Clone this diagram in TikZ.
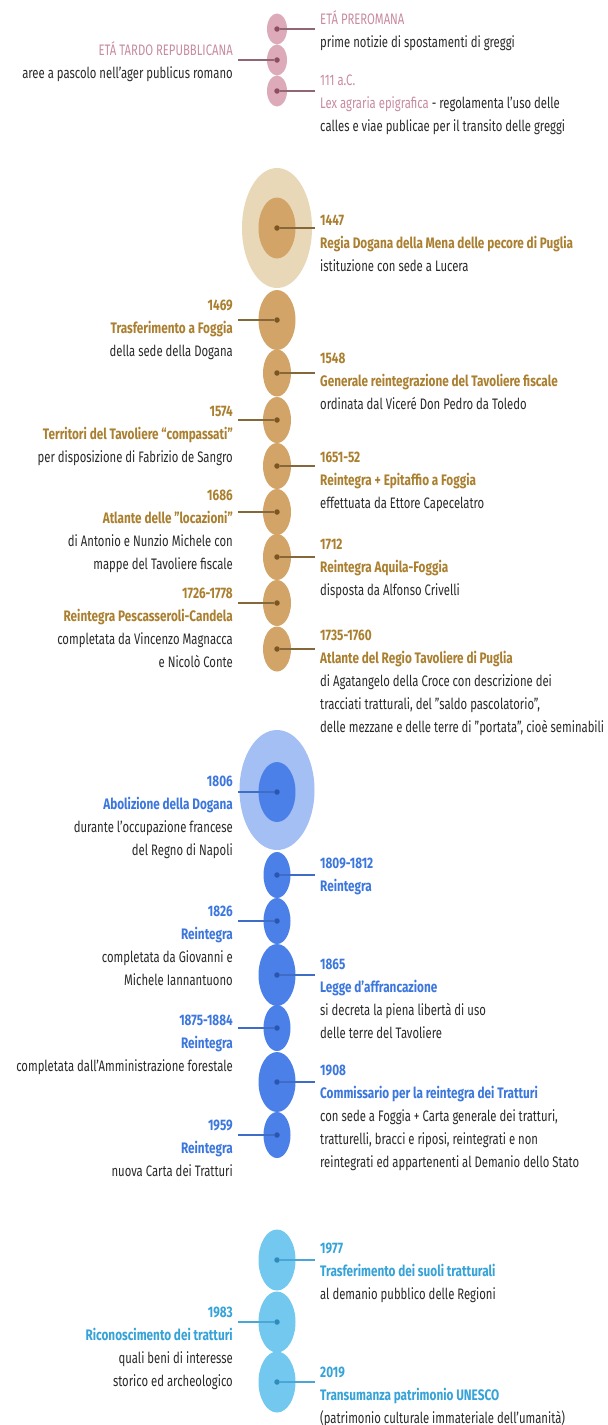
\documentclass[tikz,border=0pt]{standalone}
\usepackage{fontspec}
\setmainfont{Fira Sans}[FakeStretch=0.744, BoldFeatures={FakeStretch=0.774}]
\usetikzlibrary{shapes.geometric}

\definecolor{pinkfill}{HTML}{DCAAB9}
\definecolor{pinkdot}{HTML}{8E4D62}
\definecolor{pinkline}{HTML}{8F6672}
\definecolor{pinktext}{HTML}{C88BA0}
\definecolor{tanhalo}{HTML}{E9D8B8}
\definecolor{tanfill}{HTML}{D2A468}
\definecolor{tandot}{HTML}{7B5522}
\definecolor{tanline}{HTML}{86673A}
\definecolor{tantext}{HTML}{AA7F2F}
\definecolor{bluehalo}{HTML}{A3BFF3}
\definecolor{bluefill}{HTML}{4B80E9}
\definecolor{bluedot}{HTML}{2C55AE}
\definecolor{blueline}{HTML}{3E6CC6}
\definecolor{bluetext}{HTML}{3C77DD}
\definecolor{skyfill}{HTML}{72C8EE}
\definecolor{skydot}{HTML}{2E8CBD}
\definecolor{skyline}{HTML}{4AA6D4}
\definecolor{skytext}{HTML}{36A3D8}
\definecolor{greytext}{HTML}{2A2A2A}

\tikzstyle{ball}=[ellipse, inner sep=0pt, minimum width=28pt, minimum height=46pt]
\tikzstyle{bigball}=[ball, minimum width=37pt, minimum height=61pt]
\tikzstyle{halo}=[ball, minimum width=72pt, minimum height=120pt]
\tikzstyle{pinkball}=[ball, fill=pinkfill, minimum width=20pt, minimum height=31pt]
\tikzstyle{tanball}=[ball, fill=tanfill]
\tikzstyle{blueball}=[ball, fill=bluefill]
\tikzstyle{skyball}=[bigball, fill=skyfill]
\tikzstyle{pin}=[circle, inner sep=0pt, minimum size=5.5pt]
\tikzstyle{link}=[draw, line width=1.4pt, shorten >=5pt]
\tikzstyle{rlabel}=[anchor=north west, align=left, inner sep=0pt]
\tikzstyle{llabel}=[anchor=north east, align=right, inner sep=0pt]

\begin{document}
\begin{tikzpicture}[x=1pt, y=-1pt, font=\fontsize{15.2}{23}\selectfont, text=greytext]

\useasboundingbox [fill=white] (0,0) rectangle (608,1425);

\node (cpre) [pinkball] at (277,29) {};
\node (crep) [pinkball] at (277,60) {};
\node (c111) [pinkball] at (277,91) {};

\node (h1447) [halo, fill=tanhalo, minimum width=70pt] at (277,228) {};
\node (c1447) [bigball, fill=tanfill] at (277,228) {};
\node (c1469) [bigball, fill=tanfill, minimum height=60pt] at (277,320) {};
\node (c1548) [tanball, minimum height=47pt] at (277,373) {};
\node (c1574) [tanball] at (277,420) {};
\node (c1651) [tanball] at (277,466) {};
\node (c1686) [tanball] at (277,512) {};
\node (c1712) [tanball] at (277,557) {};
\node (c1726) [tanball] at (277,603) {};
\node (c1735) [tanball, minimum height=45pt] at (277,649) {};

\node (h1806) [halo, fill=bluehalo, minimum width=75pt] at (277,790) {};
\node (c1806) [bigball, fill=bluefill, minimum height=60pt] at (277,792) {};
\node (c1809) [blueball, minimum width=27pt] at (277,875) {};
\node (c1826) [blueball, minimum width=27pt] at (277,921) {};
\node (c1865) [bigball, fill=bluefill, minimum height=62pt] at (277,975) {};
\node (c1875) [blueball, minimum width=27pt] at (277,1028) {};
\node (c1908) [bigball, fill=bluefill, minimum height=60pt] at (277,1082) {};
\node (c1959) [blueball, minimum width=27pt] at (277,1135) {};

\node (c1977) [skyball] at (277,1260) {};
\node (c1983) [skyball] at (277,1322) {};
\node (c2019) [skyball] at (277,1382) {};

\node (tpre) [rlabel] at (320,8) {\strut\textcolor{pinktext}{ETÁ PREROMANA}\\prime notizie di spostamenti di greggi};
\node (trep) [llabel] at (233,39) {\strut\textcolor{pinktext}{ETÁ TARDO REPUBBLICANA}\\aree a pascolo nell’ager publicus romano};
\node (t111) [rlabel] at (320,69) {\strut\textcolor{pinktext}{111 a.C.}\\\textcolor{pinktext}{Lex agraria epigrafica} - regolamenta l’uso delle\\calles e viae publicae per il transito delle greggi};

\node (t1447) [rlabel] at (320,209) {\strut\textcolor{tantext}{\bfseries 1447}\\\textcolor{tantext}{\bfseries Regia Dogana della Mena delle pecore di Puglia}\\istituzione con sede a Lucera};
\node (t1469) [llabel] at (233,294) {\strut\textcolor{tantext}{\bfseries 1469}\\\textcolor{tantext}{\bfseries Trasferimento a Foggia}\\della sede della Dogana};
\node (t1548) [rlabel] at (320,347) {\strut\textcolor{tantext}{\bfseries 1548}\\\textcolor{tantext}{\bfseries Generale reintegrazione del Tavoliere fiscale}\\ordinata dal Viceré Don Pedro da Toledo};
\node (t1574) [llabel] at (233,400) {\strut\textcolor{tantext}{\bfseries 1574}\\\textcolor{tantext}{\bfseries Territori del Tavoliere “compassati”}\\per disposizione di Fabrizio de Sangro};
\node (t1651) [rlabel] at (320,446) {\strut\textcolor{tantext}{\bfseries 1651-52}\\\textcolor{tantext}{\bfseries Reintegra + Epitaffio a Foggia}\\effettuata da Ettore Capecelatro};
\node (t1686) [llabel] at (233,484) {\strut\textcolor{tantext}{\bfseries 1686}\\\textcolor{tantext}{\bfseries Atlante delle "locazioni"}\\di Antonio e Nunzio Michele con\\mappe del Tavoliere fiscale};
\node (t1712) [rlabel] at (320,533) {\strut\textcolor{tantext}{\bfseries 1712}\\\textcolor{tantext}{\bfseries Reintegra Aquila-Foggia}\\disposta da Alfonso Crivelli};
\node (t1726) [llabel] at (233,582) {\strut\textcolor{tantext}{\bfseries 1726-1778}\\\textcolor{tantext}{\bfseries Reintegra Pescasseroli-Candela}\\completata da Vincenzo Magnacca\\e Nicolò Conte};
\node (t1735) [rlabel] at (320,624) {\strut\textcolor{tantext}{\bfseries 1735-1760}\\\textcolor{tantext}{\bfseries Atlante del Regio Tavoliere di Puglia}\\di Agatangelo della Croce con descrizione dei\\tracciati tratturali, del "saldo pascolatorio",\\delle mezzane e delle terre di "portata", cioè seminabili};

\node (t1806) [llabel] at (233,770) {\strut\textcolor{bluetext}{\bfseries 1806}\\\textcolor{bluetext}{\bfseries Abolizione della Dogana}\\durante l’occupazione francese\\del Regno di Napoli};
\node (t1809) [rlabel] at (320,852) {\strut\textcolor{bluetext}{\bfseries 1809-1812}\\\textcolor{bluetext}{\bfseries Reintegra}};
\node (t1826) [llabel] at (233,900) {\strut\textcolor{bluetext}{\bfseries 1826}\\\textcolor{bluetext}{\bfseries Reintegra}\\completata da Giovanni e\\Michele Iannantuono};
\node (t1865) [rlabel] at (320,953) {\strut\textcolor{bluetext}{\bfseries 1865}\\\textcolor{bluetext}{\bfseries Legge d’affrancazione}\\si decreta la piena libertà di uso\\delle terre del Tavoliere};
\node (t1875) [llabel] at (233,1009) {\strut\textcolor{bluetext}{\bfseries 1875-1884}\\\textcolor{bluetext}{\bfseries Reintegra}\\completata dall’Amministrazione forestale};
\node (t1908) [rlabel] at (320,1059) {\strut\textcolor{bluetext}{\bfseries 1908}\\\textcolor{bluetext}{\bfseries Commissario per la reintegra dei Tratturi}\\con sede a Foggia + Carta generale dei tratturi,\\tratturelli, bracci e riposi, reintegrati e non\\reintegrati ed appartenenti al Demanio dello Stato};
\node (t1959) [llabel] at (233,1114) {\strut\textcolor{bluetext}{\bfseries 1959}\\\textcolor{bluetext}{\bfseries Reintegra}\\nuova Carta dei Tratturi};

\node (t1977) [rlabel] at (320,1237) {\strut\textcolor{skytext}{\bfseries 1977}\\\textcolor{skytext}{\bfseries Trasferimento dei suoli tratturali}\\al demanio pubblico delle Regioni};
\node (t1983) [llabel] at (233,1301) {\strut\textcolor{skytext}{\bfseries 1983}\\\textcolor{skytext}{\bfseries Riconoscimento dei tratturi}\\quali beni di interesse\\storico ed archeologico};
\node (t2019) [rlabel] at (320,1361) {\strut\textcolor{skytext}{\bfseries 2019}\\\textcolor{skytext}{\bfseries Transumanza patrimonio UNESCO}\\(patrimonio culturale immateriale dell’umanità)};

\node (dpre) [pin, fill=pinkdot] at (cpre) {};
\node (drep) [pin, fill=pinkdot] at (crep) {};
\node (d111) [pin, fill=pinkdot] at (c111) {};
\node (d1447) [pin, fill=tandot] at (c1447) {};
\node (d1469) [pin, fill=tandot] at (c1469) {};
\node (d1548) [pin, fill=tandot] at (c1548) {};
\node (d1574) [pin, fill=tandot] at (c1574) {};
\node (d1651) [pin, fill=tandot] at (c1651) {};
\node (d1686) [pin, fill=tandot] at (c1686) {};
\node (d1712) [pin, fill=tandot] at (c1712) {};
\node (d1726) [pin, fill=tandot] at (c1726) {};
\node (d1735) [pin, fill=tandot] at (c1735) {};
\node (d1806) [pin, fill=bluedot] at (c1806) {};
\node (d1809) [pin, fill=bluedot] at (c1809) {};
\node (d1826) [pin, fill=bluedot] at (c1826) {};
\node (d1865) [pin, fill=bluedot] at (c1865) {};
\node (d1875) [pin, fill=bluedot] at (c1875) {};
\node (d1908) [pin, fill=bluedot] at (c1908) {};
\node (d1959) [pin, fill=bluedot] at (c1959) {};
\node (d1977) [pin, fill=skydot] at (c1977) {};
\node (d1983) [pin, fill=skydot] at (c1983) {};
\node (d2019) [pin, fill=skydot] at (c2019) {};

\draw [link, draw=pinkline] (dpre) -- (tpre.west |- dpre);
\draw [link, draw=pinkline] (drep) -- (trep.east |- drep);
\draw [link, draw=pinkline] (d111) -- (t111.west |- d111);

\draw [link, draw=tanline] (d1447) -- (t1447.west |- d1447);
\draw [link, draw=tanline] (d1469) -- (t1469.east |- d1469);
\draw [link, draw=tanline] (d1548) -- (t1548.west |- d1548);
\draw [link, draw=tanline] (d1574) -- (t1574.east |- d1574);
\draw [link, draw=tanline] (d1651) -- (t1651.west |- d1651);
\draw [link, draw=tanline] (d1686) -- (t1686.east |- d1686);
\draw [link, draw=tanline] (d1712) -- (t1712.west |- d1712);
\draw [link, draw=tanline] (d1726) -- (t1726.east |- d1726);
\draw [link, draw=tanline] (d1735) -- (t1735.west |- d1735);

\draw [link, draw=blueline] (d1806) -- (t1806.east |- d1806);
\draw [link, draw=blueline] (d1809) -- (t1809.west |- d1809);
\draw [link, draw=blueline] (d1826) -- (t1826.east |- d1826);
\draw [link, draw=blueline] (d1865) -- (t1865.west |- d1865);
\draw [link, draw=blueline] (d1875) -- (t1875.east |- d1875);
\draw [link, draw=blueline] (d1908) -- (t1908.west |- d1908);
\draw [link, draw=blueline] (d1959) -- (t1959.east |- d1959);

\draw [link, draw=skyline] (d1977) -- (t1977.west |- d1977);
\draw [link, draw=skyline] (d1983) -- (t1983.east |- d1983);
\draw [link, draw=skyline] (d2019) -- (t2019.west |- d2019);

\end{tikzpicture}
\end{document}
